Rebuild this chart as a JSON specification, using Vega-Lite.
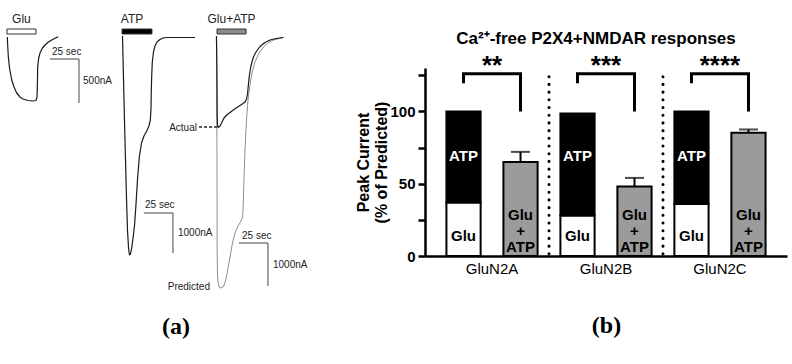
{
"$schema": "https://vega.github.io/schema/vega-lite/v6.json",
"padding": {"left": 0, "top": 12, "right": 4, "bottom": 8},
"bounds": "flush",
"spacing": 85,
"config": {"font": "Liberation Sans", "view": {"stroke": null}},
"resolve": {"scale": {"fill": "independent", "color": "independent"}},
"datasets": {
"traces": [
{"trace":"Glu","t":6.3,"i":0},{"trace":"Glu","t":6.7,"i":-250},{"trace":"Glu","t":7.2,"i":-500},{"trace":"Glu","t":8.2,"i":-775},{"trace":"Glu","t":10.1,"i":-1075},{"trace":"Glu","t":12.1,"i":-1250},{"trace":"Glu","t":14.4,"i":-1400},{"trace":"Glu","t":17.2,"i":-1500},{"trace":"Glu","t":19.8,"i":-1550},{"trace":"Glu","t":24.1,"i":-1588},{"trace":"Glu","t":28.4,"i":-1600},{"trace":"Glu","t":31.0,"i":-1588},{"trace":"Glu","t":31.9,"i":-1500},{"trace":"Glu","t":32.2,"i":-1250},{"trace":"Glu","t":32.5,"i":-750},{"trace":"Glu","t":33.2,"i":-550},{"trace":"Glu","t":34.5,"i":-400},{"trace":"Glu","t":36.6,"i":-275},{"trace":"Glu","t":38.8,"i":-200},{"trace":"Glu","t":41.4,"i":-133},{"trace":"Glu","t":44.6,"i":-75},{"trace":"Glu","t":47.4,"i":-30},{"trace":"Glu","t":50.3,"i":8},
{"trace":"ATP","t":105.6,"i":25},{"trace":"ATP","t":106.5,"i":-1075},{"trace":"ATP","t":107.3,"i":-2075},{"trace":"ATP","t":108.2,"i":-3075},{"trace":"ATP","t":109.1,"i":-4075},{"trace":"ATP","t":109.9,"i":-4825},{"trace":"ATP","t":110.8,"i":-5275},{"trace":"ATP","t":111.6,"i":-5450},{"trace":"ATP","t":112.5,"i":-5425},{"trace":"ATP","t":113.5,"i":-5275},{"trace":"ATP","t":114.7,"i":-5025},{"trace":"ATP","t":116.0,"i":-4700},{"trace":"ATP","t":117.2,"i":-4200},{"trace":"ATP","t":118.5,"i":-3575},{"trace":"ATP","t":120.1,"i":-3000},{"trace":"ATP","t":122.0,"i":-2650},{"trace":"ATP","t":124.1,"i":-2475},{"trace":"ATP","t":126.5,"i":-2350},{"trace":"ATP","t":128.4,"i":-2225},{"trace":"ATP","t":129.6,"i":-2075},{"trace":"ATP","t":130.2,"i":-1775},{"trace":"ATP","t":130.4,"i":-1375},{"trace":"ATP","t":130.8,"i":-950},{"trace":"ATP","t":131.3,"i":-625},{"trace":"ATP","t":132.3,"i":-375},{"trace":"ATP","t":133.6,"i":-225},{"trace":"ATP","t":135.3,"i":-125},{"trace":"ATP","t":137.9,"i":-63},{"trace":"ATP","t":140.5,"i":-25},{"trace":"ATP","t":144.0,"i":-13},{"trace":"ATP","t":168.1,"i":-13},
{"trace":"Actual","t":186.6,"i":25},{"trace":"Actual","t":186.9,"i":-575},{"trace":"Actual","t":187.1,"i":-1325},{"trace":"Actual","t":187.2,"i":-1950},{"trace":"Actual","t":187.5,"i":-2200},{"trace":"Actual","t":188.2,"i":-2263},{"trace":"Actual","t":189.7,"i":-2225},{"trace":"Actual","t":191.4,"i":-2125},{"trace":"Actual","t":193.1,"i":-2025},{"trace":"Actual","t":195.4,"i":-1950},{"trace":"Actual","t":198.3,"i":-1888},{"trace":"Actual","t":201.1,"i":-1825},{"trace":"Actual","t":204.3,"i":-1763},{"trace":"Actual","t":206.9,"i":-1713},{"trace":"Actual","t":209.5,"i":-1663},{"trace":"Actual","t":211.2,"i":-1625},{"trace":"Actual","t":212.5,"i":-1550},{"trace":"Actual","t":213.4,"i":-1425},{"trace":"Actual","t":214.1,"i":-1200},{"trace":"Actual","t":214.9,"i":-975},{"trace":"Actual","t":216.0,"i":-775},{"trace":"Actual","t":217.2,"i":-625},{"trace":"Actual","t":218.5,"i":-500},{"trace":"Actual","t":220.7,"i":-375},{"trace":"Actual","t":224.1,"i":-238},{"trace":"Actual","t":228.4,"i":-138},{"trace":"Actual","t":232.8,"i":-75},{"trace":"Actual","t":237.9,"i":-38},{"trace":"Actual","t":244.4,"i":-13},
{"trace":"Predicted","t":186.6,"i":25},{"trace":"Predicted","t":186.9,"i":-1575},{"trace":"Predicted","t":187.1,"i":-3575},{"trace":"Predicted","t":187.2,"i":-5325},{"trace":"Predicted","t":187.5,"i":-5950},{"trace":"Predicted","t":188.2,"i":-6175},{"trace":"Predicted","t":189.2,"i":-6263},{"trace":"Predicted","t":190.5,"i":-6275},{"trace":"Predicted","t":192.2,"i":-6250},{"trace":"Predicted","t":193.5,"i":-6175},{"trace":"Predicted","t":194.8,"i":-6050},{"trace":"Predicted","t":196.6,"i":-5775},{"trace":"Predicted","t":198.3,"i":-5500},{"trace":"Predicted","t":200.4,"i":-5150},{"trace":"Predicted","t":202.6,"i":-4900},{"trace":"Predicted","t":205.2,"i":-4725},{"trace":"Predicted","t":207.3,"i":-4625},{"trace":"Predicted","t":209.1,"i":-4500},{"trace":"Predicted","t":209.7,"i":-4200},{"trace":"Predicted","t":210.3,"i":-3575},{"trace":"Predicted","t":211.2,"i":-2825},{"trace":"Predicted","t":212.5,"i":-2075},{"trace":"Predicted","t":213.8,"i":-1575},{"trace":"Predicted","t":215.5,"i":-1200},{"trace":"Predicted","t":217.2,"i":-900},{"trace":"Predicted","t":219.8,"i":-625},{"trace":"Predicted","t":223.3,"i":-400},{"trace":"Predicted","t":227.2,"i":-250},{"trace":"Predicted","t":231.0,"i":-150},{"trace":"Predicted","t":235.8,"i":-75},{"trace":"Predicted","t":244.4,"i":-13}
],
"stim": [
{"stim":"Glu","t":6.0,"t2":31.0,"i":75,"i2":200},
{"stim":"ATP","t":105.2,"t2":131.0,"i":75,"i2":200},
{"stim":"Glu+ATP","t":187.1,"t2":212.1,"i":75,"i2":200}
],
"stimlab": [
{"txt":"Glu","t":18.5,"i":450},
{"txt":"ATP","t":113.8,"i":450},
{"txt":"Glu+ATP","t":199.6,"i":450}
],
"scalebars": [
{"t":43.1,"t2":68.1,"i":-550,"i2":-550},
{"t":68.1,"t2":68.1,"i":-550,"i2":-1650},
{"t":124.1,"t2":149.1,"i":-4400,"i2":-4400},
{"t":149.1,"t2":149.1,"i":-4400,"i2":-5400},
{"t":206.0,"t2":231.0,"i":-5150,"i2":-5150},
{"t":231.0,"t2":231.0,"i":-5150,"i2":-6225}
],
"scalelab": [
{"txt":"25 sec","t":44.8,"i":-375},
{"txt":"500nA","t":71.6,"i":-1100},
{"txt":"25 sec","t":125.0,"i":-4200},
{"txt":"1000nA","t":153.4,"i":-4900},
{"txt":"25 sec","t":208.6,"i":-4975},
{"txt":"1000nA","t":235.3,"i":-5700}
],
"annot": [
{"txt":"Actual","t":169.8,"i":-2275},
{"txt":"Predicted","t":181.0,"i":-6250}
],
"dash": [{"t":171.6,"t2":187.0,"i":-2250}],
"panelA": [{"txt":"(a)","t":151.7,"i":-7250}],
"bars": [
{"group":"GluN2A","cond":"Glu","seg":"Glu","v":0,"v2":37},
{"group":"GluN2A","cond":"Glu","seg":"ATP","v":37,"v2":100},
{"group":"GluN2A","cond":"Glu+ATP","seg":"Glu+ATP","v":0,"v2":65},
{"group":"GluN2B","cond":"Glu","seg":"Glu","v":0,"v2":28},
{"group":"GluN2B","cond":"Glu","seg":"ATP","v":28,"v2":98.6},
{"group":"GluN2B","cond":"Glu+ATP","seg":"Glu+ATP","v":0,"v2":48},
{"group":"GluN2C","cond":"Glu","seg":"Glu","v":0,"v2":36},
{"group":"GluN2C","cond":"Glu","seg":"ATP","v":36,"v2":100},
{"group":"GluN2C","cond":"Glu+ATP","seg":"Glu+ATP","v":0,"v2":85.3}
],
"errs": [
{"group":"GluN2A","cond":"Glu+ATP","v":65,"v2":72},
{"group":"GluN2B","cond":"Glu+ATP","v":48,"v2":54},
{"group":"GluN2C","cond":"Glu+ATP","v":85.3,"v2":87.5}
],
"caps": [
{"group":"GluN2A","cond":"Glu+ATP","v":72},
{"group":"GluN2B","cond":"Glu+ATP","v":54},
{"group":"GluN2C","cond":"Glu+ATP","v":87.5}
],
"brackets": [
{"group":"GluN2A","cond":"Glu","v":119.5,"ord":1},{"group":"GluN2A","cond":"Glu","v":126,"ord":2},{"group":"GluN2A","cond":"Glu+ATP","v":126,"ord":3},{"group":"GluN2A","cond":"Glu+ATP","v":100,"ord":4},
{"group":"GluN2B","cond":"Glu","v":119.5,"ord":1},{"group":"GluN2B","cond":"Glu","v":126,"ord":2},{"group":"GluN2B","cond":"Glu+ATP","v":126,"ord":3},{"group":"GluN2B","cond":"Glu+ATP","v":100,"ord":4},
{"group":"GluN2C","cond":"Glu","v":119.5,"ord":1},{"group":"GluN2C","cond":"Glu","v":126,"ord":2},{"group":"GluN2C","cond":"Glu+ATP","v":126,"ord":3},{"group":"GluN2C","cond":"Glu+ATP","v":100,"ord":4}
],
"stars": [
{"group":"GluN2A","stars":"**","v":131.7},
{"group":"GluN2B","stars":"***","v":131.7},
{"group":"GluN2C","stars":"****","v":131.7}
],
"dividers": [{"group":"GluN2A","v":1.5,"v2":128},{"group":"GluN2B","v":1.5,"v2":128}],
"inbar": [
{"group":"GluN2A","cond":"Glu","seg":"ATP","v":69,"txt":"ATP"},
{"group":"GluN2A","cond":"Glu","seg":"Glu","v":14,"txt":"Glu"},
{"group":"GluN2A","cond":"Glu+ATP","seg":"Glu+ATP","v":28.3,"txt":"Glu\n+\nATP"},
{"group":"GluN2B","cond":"Glu","seg":"ATP","v":69,"txt":"ATP"},
{"group":"GluN2B","cond":"Glu","seg":"Glu","v":14,"txt":"Glu"},
{"group":"GluN2B","cond":"Glu+ATP","seg":"Glu+ATP","v":28.3,"txt":"Glu\n+\nATP"},
{"group":"GluN2C","cond":"Glu","seg":"ATP","v":69,"txt":"ATP"},
{"group":"GluN2C","cond":"Glu","seg":"Glu","v":14,"txt":"Glu"},
{"group":"GluN2C","cond":"Glu+ATP","seg":"Glu+ATP","v":28.3,"txt":"Glu\n+\nATP"}
]
},
"hconcat": [
{
"width": 340, "height": 188,
"encoding": {
"x": {"field": "t", "type": "quantitative", "scale": {"domain": [0, 293.1], "nice": false, "zero": false}, "axis": null},
"y": {"field": "i", "type": "quantitative", "scale": {"domain": [-5475, -775], "nice": false, "zero": false}, "axis": null}
},
"layer": [
{"data": {"name": "traces"}, "transform": [{"filter": "datum.trace == 'Predicted'"}], "mark": {"type": "line", "color": "#808080", "strokeWidth": 0.9, "strokeJoin": "round"}, "encoding": {"detail": {"field": "trace"}}},
{"data": {"name": "traces"}, "transform": [{"filter": "datum.trace != 'Predicted'"}], "mark": {"type": "line", "color": "#1a1a1a", "strokeWidth": 1.2, "strokeJoin": "round"}, "encoding": {"detail": {"field": "trace"}}},
{"data": {"name": "stim"}, "mark": {"type": "rect", "stroke": "#333333", "strokeWidth": 1}, "encoding": {"x2": {"field": "t2"}, "y2": {"field": "i2"}, "fill": {"field": "stim", "type": "nominal", "scale": {"domain": ["Glu", "ATP", "Glu+ATP"], "range": ["#ffffff", "#000000", "#8c8c8c"]}, "legend": null}}},
{"data": {"name": "stimlab"}, "mark": {"type": "text", "fontSize": 12, "color": "#222222", "baseline": "middle", "align": "center"}, "encoding": {"text": {"field": "txt"}}},
{"data": {"name": "scalebars"}, "mark": {"type": "rule", "color": "#444444", "strokeWidth": 1}, "encoding": {"x2": {"field": "t2"}, "y2": {"field": "i2"}}},
{"data": {"name": "scalelab"}, "mark": {"type": "text", "fontSize": 10, "color": "#222222", "baseline": "middle", "align": "left"}, "encoding": {"text": {"field": "txt"}}},
{"data": {"name": "annot"}, "mark": {"type": "text", "fontSize": 10, "color": "#222222", "baseline": "middle", "align": "right"}, "encoding": {"text": {"field": "txt"}}},
{"data": {"name": "dash"}, "mark": {"type": "rule", "color": "#222222", "strokeWidth": 1.5, "strokeDash": [3, 2]}, "encoding": {"x2": {"field": "t2"}}},
{"data": {"name": "panelA"}, "mark": {"type": "text", "font": "Liberation Serif", "fontSize": 24, "fontWeight": "bold", "color": "#000000", "baseline": "middle", "align": "center"}, "encoding": {"text": {"field": "txt"}}}
]
},
{
"width": 362, "height": 188,
"title": {"text": "Ca²⁺-free P2X4+NMDAR responses", "font": "Liberation Sans", "fontSize": 17, "fontWeight": "bold", "color": "#000000", "anchor": "middle", "frame": "group", "dx": -10, "offset": 5},
"encoding": {
"x": {"field": "group", "type": "nominal", "sort": null, "scale": {"domain": ["GluN2A", "GluN2B", "GluN2C"], "paddingInner": 0, "paddingOuter": 0.088},
"axis": {"title": "(b)", "titleFont": "Liberation Serif", "titleFontSize": 24, "titleFontWeight": "bold", "titleColor": "#000000", "titlePadding": 37, "labelFont": "Liberation Sans", "labelFontSize": 15, "labelColor": "#000000", "labelAngle": 0, "labelPadding": 5, "ticks": false, "domainColor": "#000000", "domainWidth": 2.5}},
"y": {"field": "v", "type": "quantitative", "scale": {"domain": [0, 130], "nice": false},
"axis": {"title": ["Peak Current", "(% of Predicted)"], "titleFont": "Liberation Sans", "titleFontSize": 16, "titleFontWeight": "bold", "titleColor": "#000000", "titlePadding": 0, "values": [0, 25, 50, 75, 100, 125], "labelExpr": "datum.value % 50 == 0 ? datum.label : ''", "labelFont": "Liberation Sans", "labelFontSize": 15, "labelFontWeight": "bold", "labelColor": "#000000", "labelPadding": 3, "tickColor": "#000000", "tickWidth": 2.5, "tickSize": 7, "domainColor": "#000000", "domainWidth": 2.5, "grid": false}}
},
"layer": [
{"data": {"name": "bars"}, "mark": {"type": "bar", "stroke": "#000000", "strokeWidth": 2},
"encoding": {
"xOffset": {"field": "cond", "type": "nominal", "scale": {"domain": ["Glu", "Glu+ATP"], "paddingInner": 0.4, "paddingOuter": 0.2}},
"y2": {"field": "v2"},
"fill": {"field": "seg", "type": "nominal", "scale": {"domain": ["Glu", "ATP", "Glu+ATP"], "range": ["#ffffff", "#000000", "#9b9b9b"]}, "legend": null}
}},
{"data": {"name": "errs"}, "mark": {"type": "rule", "color": "#000000", "strokeWidth": 2},
"encoding": {"xOffset": {"field": "cond", "type": "nominal"}, "y2": {"field": "v2"}}},
{"data": {"name": "caps"}, "mark": {"type": "tick", "color": "#000000", "thickness": 2, "size": 19},
"encoding": {"xOffset": {"field": "cond", "type": "nominal"}}},
{"data": {"name": "dividers"}, "mark": {"type": "rule", "color": "#000000", "strokeWidth": 3, "strokeCap": "round", "strokeDash": [0.1, 7.6]},
"encoding": {"x": {"field": "group", "type": "nominal", "bandPosition": 1, "sort": null,
"axis": {"title": "(b)", "titleFont": "Liberation Serif", "titleFontSize": 24, "titleFontWeight": "bold", "titleColor": "#000000", "titlePadding": 37, "labelFont": "Liberation Sans", "labelFontSize": 15, "labelColor": "#000000", "labelAngle": 0, "labelPadding": 5, "ticks": false, "domainColor": "#000000", "domainWidth": 2.5}},
"y2": {"field": "v2"}}},
{"data": {"name": "brackets"}, "mark": {"type": "line", "color": "#000000", "strokeWidth": 3, "strokeJoin": "miter", "strokeCap": "butt"},
"encoding": {"xOffset": {"field": "cond", "type": "nominal"}, "detail": {"field": "group"}, "order": {"field": "ord", "type": "quantitative"}}},
{"data": {"name": "stars"}, "mark": {"type": "text", "fontSize": 26, "fontWeight": "bold", "color": "#000000", "baseline": "middle", "align": "center"},
"encoding": {"text": {"field": "stars"}}},
{"data": {"name": "inbar"}, "transform": [{"filter": "datum.seg == 'ATP'"}], "mark": {"type": "text", "fontSize": 15, "fontWeight": "bold", "color": "#ffffff", "baseline": "middle", "align": "center"},
"encoding": {"xOffset": {"field": "cond", "type": "nominal"}, "text": {"field": "txt"}}},
{"data": {"name": "inbar"}, "transform": [{"filter": "datum.seg != 'ATP'"}], "mark": {"type": "text", "fontSize": 15, "fontWeight": "bold", "color": "#000000", "baseline": "middle", "align": "center", "lineBreak": "\n", "lineHeight": 15.8},
"encoding": {"xOffset": {"field": "cond", "type": "nominal"}, "text": {"field": "txt"}}}
]
}
]
}
